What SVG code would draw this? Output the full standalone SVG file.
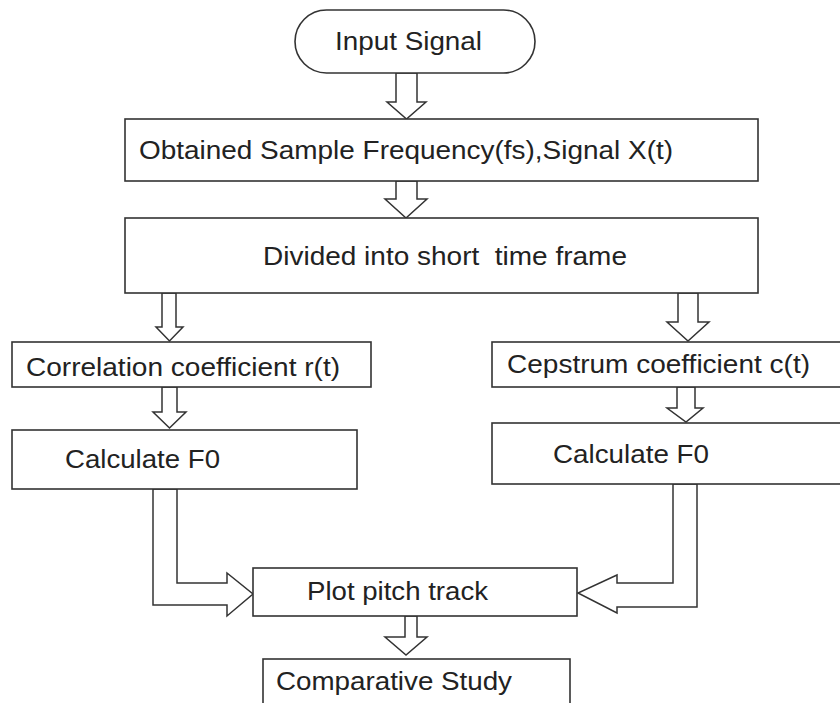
<svg xmlns="http://www.w3.org/2000/svg" width="840" height="703" viewBox="0 0 840 703">
<style>
.box{fill:#fff;stroke:#333;stroke-width:1.6}
.arr{fill:#fff;stroke:#333;stroke-width:1.5;stroke-linejoin:miter}
.t{font-family:"Liberation Sans",Arial,sans-serif;font-size:25px;fill:#222;white-space:pre}
</style>
<rect width="840" height="703" fill="#fff"/>
<g id="connectors">
<polygon class="arr" points="396,73 417,73 417,102 426,102 406.5,119 387,102 396,102"/>
<polygon class="arr" points="396,181 417,181 417,199 427,199 406,218 385,199 396,199"/>
<polygon class="arr" points="162,293 176,293 176,327 183,327 169.5,341 156,327 162,327"/>
<polygon class="arr" points="678,293 698,293 698,322 709,322 688,341 667,322 678,322"/>
<polygon class="arr" points="162,387 177,387 177,412 186,412 169.5,428 153,412 162,412"/>
<polygon class="arr" points="677,387 695,387 695,408 703,408 686,422 667,408 677,408"/>
<polygon class="arr" points="153,489 177,489 177,583 227,583 227,573 253,594 227,616 227,605 153,605"/>
<polygon class="arr" points="673,484 697,484 697,607 617,607 617,613 578,593 617,575 617,583 673,583"/>
<polygon class="arr" points="405,616 417,616 417,637 427,637 406,655 385,637 405,637"/>
</g>
<g id="input-signal">
<rect class="box" x="295" y="10" width="240" height="63" rx="31.5"/>
<text class="t" x="335" y="50" textLength="147" lengthAdjust="spacingAndGlyphs">Input Signal</text>
</g>
<g id="sample-frequency">
<rect class="box" x="125" y="119" width="633" height="62"/>
<text class="t" x="139" y="159" textLength="534" lengthAdjust="spacingAndGlyphs">Obtained Sample Frequency(fs),Signal X(t)</text>
</g>
<g id="short-time-frame">
<rect class="box" x="125" y="218" width="633" height="75"/>
<text class="t" x="263" y="265" textLength="364" lengthAdjust="spacingAndGlyphs">Divided into short  time frame</text>
</g>
<g id="correlation">
<rect class="box" x="12" y="342" width="359" height="45"/>
<text class="t" x="26" y="376" textLength="314" lengthAdjust="spacingAndGlyphs">Correlation coefficient r(t)</text>
</g>
<g id="cepstrum">
<rect class="box" x="492" y="342" width="360" height="45"/>
<text class="t" x="507" y="373" textLength="303" lengthAdjust="spacingAndGlyphs">Cepstrum coefficient c(t)</text>
</g>
<g id="calc-f0-left">
<rect class="box" x="12" y="430" width="345" height="59"/>
<text class="t" x="65" y="468" textLength="155" lengthAdjust="spacingAndGlyphs">Calculate F0</text>
</g>
<g id="calc-f0-right">
<rect class="box" x="492" y="423" width="360" height="61"/>
<text class="t" x="553" y="463" textLength="156" lengthAdjust="spacingAndGlyphs">Calculate F0</text>
</g>
<g id="plot-pitch">
<rect class="box" x="253" y="568" width="324" height="48"/>
<text class="t" x="307" y="600" textLength="181" lengthAdjust="spacingAndGlyphs">Plot pitch track</text>
</g>
<g id="comparative">
<rect class="box" x="263" y="659" width="307" height="60"/>
<text class="t" x="276" y="690" textLength="236" lengthAdjust="spacingAndGlyphs">Comparative Study</text>
</g>
</svg>
